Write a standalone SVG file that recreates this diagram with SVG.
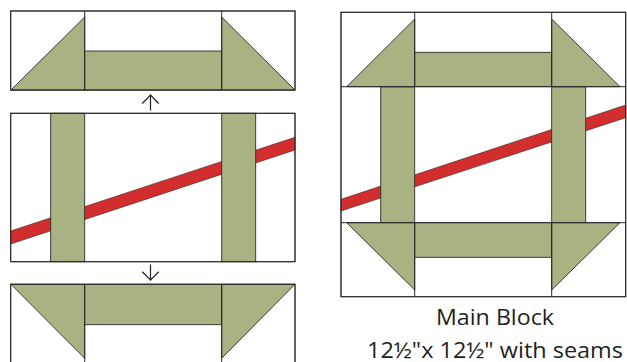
<svg xmlns="http://www.w3.org/2000/svg" width="627" height="362" viewBox="0 0 627 362">
<style>
.bg{fill:#ffffff;stroke:#3a3a3a;stroke-width:1}
.g{fill:#a9b283;stroke:#2b2b2b;stroke-width:0.9;stroke-linejoin:miter}
.r{fill:#d22e2e;stroke:#3a2020;stroke-width:0.6}
.ln{fill:none;stroke:#2b2b2b;stroke-width:1}
.arr{fill:none;stroke:#231f20;stroke-width:1.2}
.t{font-family:"Open Sans","Noto Sans",sans-serif;font-size:21.5px;fill:#231f20;text-anchor:middle}
</style>
<rect width="627" height="362" fill="#ffffff"/>

<g id="top-row">
  <rect class="bg" x="10.7" y="11" width="284.3" height="79"/>
  <polygon class="g" points="11,90 84.7,17 84.7,90"/>
  <rect class="g" x="84.7" y="51" width="137" height="39"/>
  <polygon class="g" points="221.7,17 295,90 221.7,90"/>
  <line class="ln" x1="84.7" y1="11" x2="84.7" y2="90"/>
  <line class="ln" x1="221.7" y1="11" x2="221.7" y2="90"/>
  <rect class="ln" x="10.7" y="11" width="284.3" height="79"/>
</g>

<g id="middle-row">
  <rect class="bg" x="10.7" y="113.3" width="284.3" height="148.4"/>
  <polygon class="r" points="10.7,231 295,137.3 295,150 10.7,244"/>
  <rect class="g" x="50.7" y="113.3" width="34" height="148.4"/>
  <rect class="g" x="221.7" y="113.3" width="34" height="148.4"/>
  <rect class="ln" x="10.7" y="113.3" width="284.3" height="148.4"/>
</g>

<g id="bottom-row">
  <rect class="bg" x="10.7" y="284.3" width="284.3" height="90"/>
  <polygon class="g" points="11,284.3 84.7,284.3 84.7,358.3"/>
  <rect class="g" x="84.7" y="284.3" width="137" height="40.4"/>
  <polygon class="g" points="221.7,284.3 295,284.3 221.7,358.3"/>
  <line class="ln" x1="84.7" y1="284.3" x2="84.7" y2="362"/>
  <line class="ln" x1="221.7" y1="284.3" x2="221.7" y2="362"/>
  <rect class="ln" x="10.7" y="284.3" width="284.3" height="90"/>
</g>

<g id="main-block">
  <rect class="bg" x="341" y="12.3" width="284.7" height="284.4"/>
  <polygon class="r" points="341,199.3 625.7,105 625.7,117.7 341,211"/>
  <rect class="g" x="380.7" y="86.7" width="34" height="136"/>
  <rect class="g" x="551.7" y="86.7" width="34" height="136"/>
  <polygon class="g" points="346.7,86.7 414.7,19 414.7,86.7"/>
  <rect class="g" x="414.7" y="52.3" width="137" height="34.4"/>
  <polygon class="g" points="551.7,19 620,86.7 551.7,86.7"/>
  <polygon class="g" points="346.7,222.7 414.7,222.7 414.7,290"/>
  <rect class="g" x="414.7" y="222.7" width="137" height="34.6"/>
  <polygon class="g" points="551.7,222.7 620,222.7 551.7,290"/>
  <line class="ln" x1="414.7" y1="12.3" x2="414.7" y2="86.7"/>
  <line class="ln" x1="551.7" y1="12.3" x2="551.7" y2="86.7"/>
  <line class="ln" x1="414.7" y1="222.7" x2="414.7" y2="296.7"/>
  <line class="ln" x1="551.7" y1="222.7" x2="551.7" y2="296.7"/>
  <line class="ln" x1="341" y1="86.7" x2="625.7" y2="86.7"/>
  <line class="ln" x1="341" y1="222.7" x2="625.7" y2="222.7"/>
  <rect class="ln" x="341" y="12.3" width="284.7" height="284.4"/>
</g>

<g id="connectors">
  <line class="arr" x1="150.5" y1="110.5" x2="150.5" y2="94.5"/>
  <polyline class="arr" points="142.2,103.5 150.5,95 158.8,103.5"/>
  <line class="arr" x1="150.5" y1="264.5" x2="150.5" y2="280.5"/>
  <polyline class="arr" points="142.2,271.8 150.5,280 158.8,271.8"/>
</g>

<g id="caption">
  <text class="t" x="495" y="325" textLength="118" lengthAdjust="spacingAndGlyphs">Main Block</text>
  <text class="t" x="495" y="357.5" textLength="256" lengthAdjust="spacingAndGlyphs">12½"x 12½" with seams</text>
</g>
</svg>
